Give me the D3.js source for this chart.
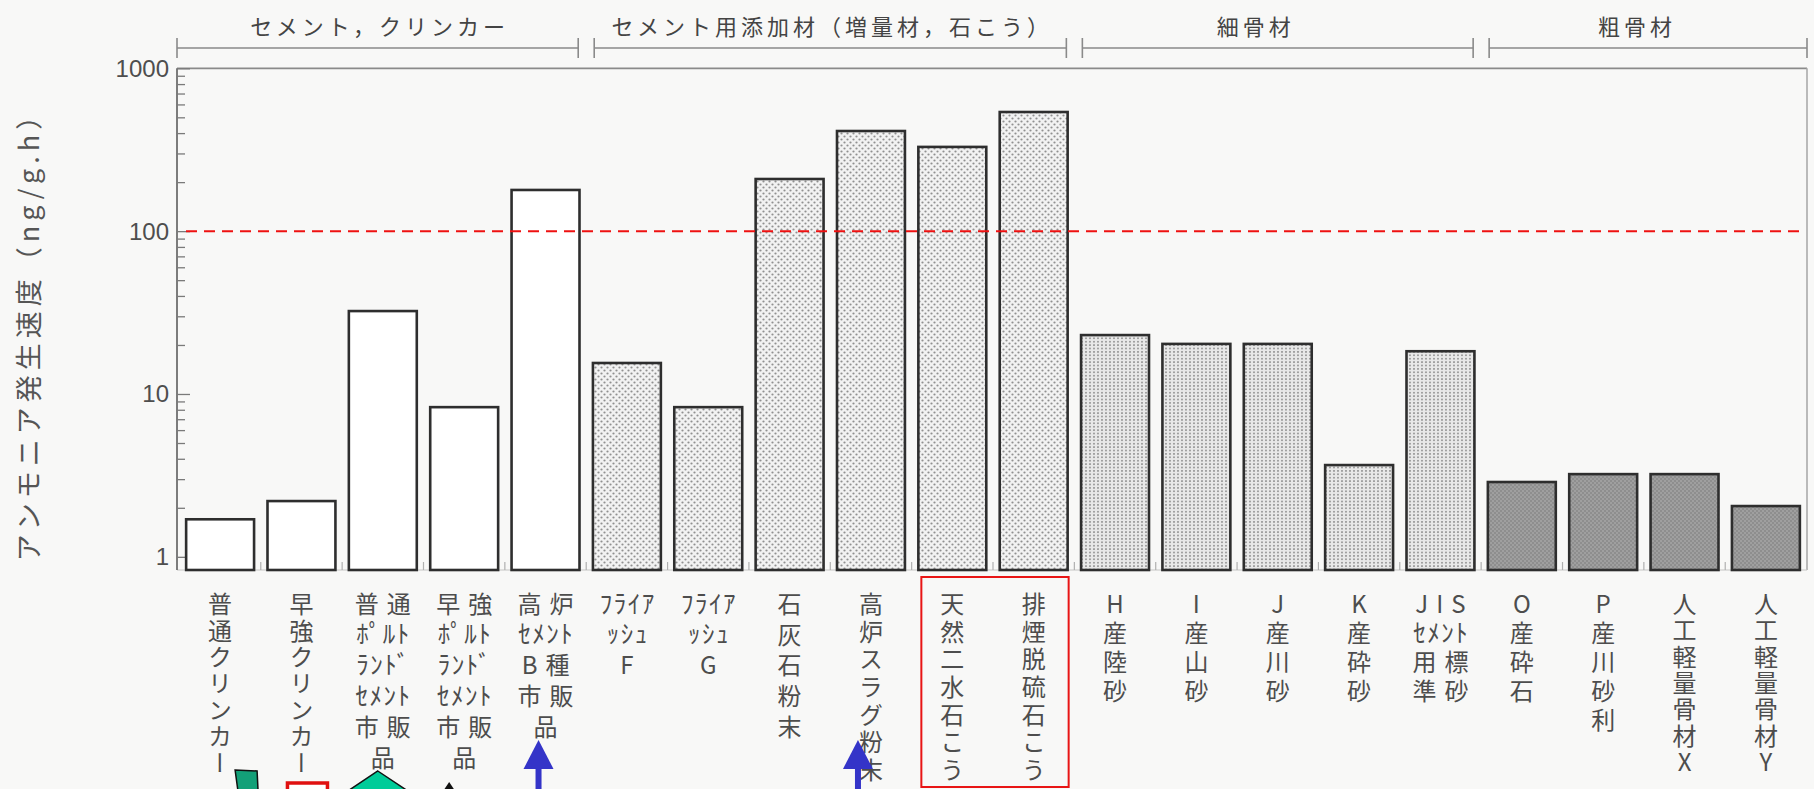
<!DOCTYPE html>
<html lang="ja">
<head>
<meta charset="utf-8">
<script src="https://cdn.jsdelivr.net/npm/d3@7"></script>
<style>
  html, body { margin: 0; padding: 0; background: #f8f8f7; }
  svg { display: block; }
  .tate { writing-mode: vertical-rl; text-orientation: upright; }
</style>
</head>
<body>
<svg id="chart" width="1814" height="789"></svg>
<script>
// ---- data -------------------------------------------------------------
const categories = [
  "普通クリンカー", "早強クリンカー", "普通ポルトランドセメント市販品",
  "早強ポルトランドセメント市販品", "高炉セメントB種市販品",
  "フライアッシュF", "フライアッシュG", "石灰石粉末", "高炉スラグ粉末",
  "天然二水石こう", "排煙脱硫石こう",
  "H産陸砂", "I産山砂", "J産川砂", "K産砕砂", "JISセメント用標準砂",
  "O産砕石", "P産川砂利", "人工軽量骨材X", "人工軽量骨材Y"
];

// label lines as typeset under each bar (top to bottom)
const labelRows = [
  ["普", "通", "ク", "リ", "ン", "カ", "ー"],
  ["早", "強", "ク", "リ", "ン", "カ", "ー"],
  ["普通", "ﾎﾟﾙﾄ", "ﾗﾝﾄﾞ", "ｾﾒﾝﾄ", "市販", "品"],
  ["早強", "ﾎﾟﾙﾄ", "ﾗﾝﾄﾞ", "ｾﾒﾝﾄ", "市販", "品"],
  ["高炉", "ｾﾒﾝﾄ", "B種", "市販", "品"],
  ["ﾌﾗｲｱ", "ｯｼｭ", "F"],
  ["ﾌﾗｲｱ", "ｯｼｭ", "G"],
  ["石", "灰", "石", "粉", "末"],
  ["高", "炉", "ス", "ラ", "グ", "粉", "末"],
  ["天", "然", "二", "水", "石", "こ", "う"],
  ["排", "煙", "脱", "硫", "石", "こ", "う"],
  ["H", "産", "陸", "砂"],
  ["I", "産", "山", "砂"],
  ["J", "産", "川", "砂"],
  ["K", "産", "砕", "砂"],
  ["JIS", "ｾﾒﾝﾄ", "用標", "準砂"],
  ["O", "産", "砕", "石"],
  ["P", "産", "川", "砂", "利"],
  ["人", "工", "軽", "量", "骨", "材", "X"],
  ["人", "工", "軽", "量", "骨", "材", "Y"]
];

// ammonia emission rate, ng/(g·h)
const rates = [1.70, 2.20, 32.3, 8.3, 179, 15.5, 8.3, 209, 412, 329, 539,
               23.0, 20.3, 20.3, 3.66, 18.3, 2.88, 3.22, 3.22, 2.05];

const groupNames = ["セメント，クリンカー", "セメント用添加材（増量材，石こう）", "細骨材", "粗骨材"];
const groupSizes = [5, 6, 5, 4];

const yTickValues = [1, 10, 100, 1000];
const thresholdValue = 100;
const yTitle = "アンモニア発生速度（ng/g.h）";

const highlighted = ["天然二水石こう", "排煙脱硫石こう"];
const arrowed = ["高炉セメントB種市販品", "高炉スラグ粉末"];

// ---- layout -----------------------------------------------------------
// line spacing of each label column
const labelLeading = [26.4, 26.4, 30.8, 30.8, 30.9, 30.8, 30.8, 30.6, 27.6, 27.6, 27.6,
                      29, 29, 29, 29, 29.3, 29, 29, 26.3, 26.3];
// horizontal nudge of each group heading from the bracket centre
const headerShift = [0, 0, -24, -13];

const plotLeft = 177, plotRight = 1807, plotTop = 68.3, baseY = 570;
const labelTop = 604;       // centre of the first label line
const labelSize = 24;
const jpFont = "'Noto Sans CJK JP', 'Noto Sans CJK SC', sans-serif";

const svg = d3.select("#chart");

const x = d3.scaleBand()
  .domain(categories)
  .range([178, 1808])
  .paddingInner(0.165)
  .paddingOuter(0.1);

const y = d3.scaleLog()
  .domain([0.83, 1000])
  .range([baseY, plotTop]);

const groupOf = [];
groupSizes.forEach((n, g) => { for (let k = 0; k < n; k++) groupOf.push(g); });

// ---- fill textures ----------------------------------------------------
const defs = svg.append("defs");

const pLight = defs.append("pattern").attr("id", "dotsLight")
  .attr("patternUnits", "userSpaceOnUse").attr("width", 6).attr("height", 6);
pLight.append("rect").attr("width", 6).attr("height", 6).attr("fill", "#f2f2f2");
pLight.append("circle").attr("cx", 1.5).attr("cy", 1.5).attr("r", 1.1).attr("fill", "#909090");
pLight.append("circle").attr("cx", 4.5).attr("cy", 4.5).attr("r", 1.1).attr("fill", "#909090");

const pCol = defs.append("pattern").attr("id", "dotsColumns")
  .attr("patternUnits", "userSpaceOnUse").attr("width", 4).attr("height", 3.4);
pCol.append("rect").attr("width", 4).attr("height", 3.4).attr("fill", "#e8e8e8");
pCol.append("circle").attr("cx", 2).attr("cy", 1.7).attr("r", 0.95).attr("fill", "#838383");

const pDark = defs.append("pattern").attr("id", "dotsDark")
  .attr("patternUnits", "userSpaceOnUse").attr("width", 4).attr("height", 4);
pDark.append("rect").attr("width", 4).attr("height", 4).attr("fill", "#8e8e8e");
pDark.append("circle").attr("cx", 1).attr("cy", 1).attr("r", 0.8).attr("fill", "#b6b6b6");
pDark.append("circle").attr("cx", 3).attr("cy", 3).attr("r", 0.8).attr("fill", "#b6b6b6");

const groupFill = ["#ffffff", "url(#dotsLight)", "url(#dotsColumns)", "url(#dotsDark)"];

// ---- frame ------------------------------------------------------------
svg.append("line")
  .attr("x1", plotLeft).attr("x2", plotRight)
  .attr("y1", y(1000)).attr("y2", y(1000))
  .attr("stroke", "#8a8a8a").attr("stroke-width", 1.8);
svg.append("line")
  .attr("x1", plotRight).attr("x2", plotRight)
  .attr("y1", y(1000)).attr("y2", baseY)
  .attr("stroke", "#aaaaaa").attr("stroke-width", 1.6);
svg.append("line")
  .attr("x1", plotLeft).attr("x2", plotRight)
  .attr("y1", baseY).attr("y2", baseY)
  .attr("stroke", "#c4c4c4").attr("stroke-width", 1.2);

// y axis: log ticks pointing into the plot
const yAxis = d3.axisRight(y)
  .tickValues(y.ticks().filter(v => v >= 1))
  .tickSize(9)
  .tickFormat("");
const yAxisG = svg.append("g")
  .attr("transform", `translate(${plotLeft},0)`)
  .call(yAxis);
yAxisG.select(".domain")
  .attr("d", `M0,${y(1000)}V${baseY}`)
  .attr("stroke", "#6e6e6e").attr("stroke-width", 1.8);
yAxisG.selectAll(".tick line")
  .attr("stroke", "#7a7a7a").attr("stroke-width", 1.3)
  .attr("x2", d => yTickValues.includes(d) ? 13 : 8);

svg.append("g").selectAll("text")
  .data(yTickValues)
  .join("text")
  .attr("x", 169)
  .attr("y", d => y(d))
  .attr("text-anchor", "end")
  .attr("dominant-baseline", "central")
  .attr("font-family", "'Liberation Sans', Arial, sans-serif")
  .attr("font-size", 24)
  .attr("fill", "#4e4e4e")
  .text(d => d);

// y title
svg.append("text")
  .attr("transform", `translate(27,332) rotate(-90)`)
  .attr("text-anchor", "middle")
  .attr("dominant-baseline", "central")
  .attr("font-family", jpFont)
  .attr("font-size", 27)
  .attr("letter-spacing", 5)
  .attr("dx", 2.5)
  .attr("fill", "#555555")
  .text(yTitle);

// small ticks between categories on the baseline
const gapHalf = x.step() * x.paddingInner() / 2;
svg.append("g").selectAll("line")
  .data(categories.slice(1))
  .join("line")
  .attr("x1", d => x(d) - gapHalf).attr("x2", d => x(d) - gapHalf)
  .attr("y1", baseY).attr("y2", baseY - 8)
  .attr("stroke", "#b0b0b0").attr("stroke-width", 1.2);

// ---- bars -------------------------------------------------------------
svg.append("g").selectAll("rect")
  .data(categories)
  .join("rect")
  .attr("x", d => x(d))
  .attr("y", (d, i) => y(rates[i]))
  .attr("width", x.bandwidth())
  .attr("height", (d, i) => baseY - y(rates[i]))
  .attr("fill", (d, i) => groupFill[groupOf[i]])
  .attr("stroke", "#2e2e2e")
  .attr("stroke-width", 2.6);

// ---- threshold line (drawn over the bars) -----------------------------
svg.append("line")
  .attr("x1", plotLeft + 9).attr("x2", plotRight - 2)
  .attr("y1", y(thresholdValue)).attr("y2", y(thresholdValue))
  .attr("stroke", "#ee1111").attr("stroke-width", 2)
  .attr("stroke-dasharray", "11,7");

// ---- group brackets ---------------------------------------------------
const bracketY = 48;
let startIdx = 0;
groupSizes.forEach((n, g) => {
  const first = categories[startIdx];
  const last = categories[startIdx + n - 1];
  const x1 = g === 0 ? plotLeft : x(first) - gapHalf + 8;
  const x2 = g === groupSizes.length - 1 ? plotRight : x(last) + x.bandwidth() + gapHalf - 8;
  const b = svg.append("g");
  b.append("line").attr("x1", x1).attr("x2", x2).attr("y1", bracketY).attr("y2", bracketY)
    .attr("stroke", "#8a8a8a").attr("stroke-width", 1.6);
  [x1, x2].forEach(xx => b.append("line")
    .attr("x1", xx).attr("x2", xx).attr("y1", bracketY - 10).attr("y2", bracketY + 10)
    .attr("stroke", "#8a8a8a").attr("stroke-width", 1.6));
  b.append("text")
    .attr("x", (x1 + x2) / 2 + 2 + headerShift[g])
    .attr("y", 25)
    .attr("text-anchor", "middle")
    .attr("dominant-baseline", "central")
    .attr("font-family", jpFont)
    .attr("font-size", 22)
    .attr("letter-spacing", 4)
    .attr("fill", "#444444")
    .text(groupNames[g]);
  startIdx += n;
});

// ---- category labels --------------------------------------------------
// one character per line -> set vertically (tategaki);
// several characters per line -> stacked horizontal lines
const halfKana = /[\uff61-\uff9f]/;
const labelG = svg.append("g")
  .attr("font-family", jpFont)
  .attr("fill", "#4d4d4d");

categories.forEach((c, i) => {
  const cx = x(c) + x.bandwidth() / 2;
  const rows = labelRows[i];
  const lead = labelLeading[i];
  if (rows.every(r => r.length === 1)) {
    labelG.append("text")
      .attr("class", "tate")
      .attr("x", cx)
      .attr("y", labelTop - labelSize / 2)
      .attr("font-size", labelSize)
      .attr("letter-spacing", lead - labelSize)
      .text(rows.join(""));
  } else {
    const t = labelG.append("text")
      .attr("text-anchor", "middle")
      .attr("font-size", labelSize);
    rows.forEach((row, r) => {
      let ls = 0, fs = labelSize;
      if (halfKana.test(row)) { ls = 1.5; fs = labelSize + 1; }
      else if (row.length > 1) ls = 8;
      t.append("tspan")
        .attr("x", cx + ls / 2)
        .attr("y", labelTop + r * lead + 8.5)
        .attr("font-size", fs)
        .attr("letter-spacing", ls)
        .text(row);
    });
  }
});

// ---- annotations ------------------------------------------------------
const hx1 = x(highlighted[0]) + 3;
const hx2 = x(highlighted[1]) + x.bandwidth() + 1;
svg.append("rect")
  .attr("x", hx1).attr("y", 577)
  .attr("width", hx2 - hx1).attr("height", 210)
  .attr("fill", "none")
  .attr("stroke", "#e81515").attr("stroke-width", 2);

const arrowOffsets = [-7, -13];
arrowed.forEach((c, k) => {
  const ax = x(c) + x.bandwidth() / 2 + arrowOffsets[k];
  svg.append("path")
    .attr("d", `M${ax},740L${ax + 15},769L${ax - 15},769Z`)
    .attr("fill", "#3434c8");
  svg.append("rect")
    .attr("x", ax - 3).attr("y", 768).attr("width", 6).attr("height", 25)
    .attr("fill", "#3434c8");
});

// icons peeking in at the bottom edge
const c0 = x(categories[0]) + x.bandwidth() / 2;
const c1 = x(categories[1]) + x.bandwidth() / 2;
const c2 = x(categories[2]) + x.bandwidth() / 2;
const c3 = x(categories[3]) + x.bandwidth() / 2;
svg.append("path")
  .attr("d", `M${c0 + 15},770L${c0 + 37},771L${c0 + 38},792L${c0 + 18},792Z`)
  .attr("fill", "#13a078").attr("stroke", "#111").attr("stroke-width", 1.5);
svg.append("rect")
  .attr("x", c1 - 14).attr("y", 783).attr("width", 40).attr("height", 12)
  .attr("fill", "#ffffff").attr("stroke", "#e01010").attr("stroke-width", 3.5);
svg.append("path")
  .attr("d", `M${c2 - 5},771L${c2 + 28},793L${c2 - 38},793Z`)
  .attr("fill", "#00cc99").attr("stroke", "#111").attr("stroke-width", 1.5);
svg.append("path")
  .attr("d", `M${c3 - 21},791L${c3 - 15},782L${c3 - 9},791Z`)
  .attr("fill", "#111");
</script>
</body>
</html>
